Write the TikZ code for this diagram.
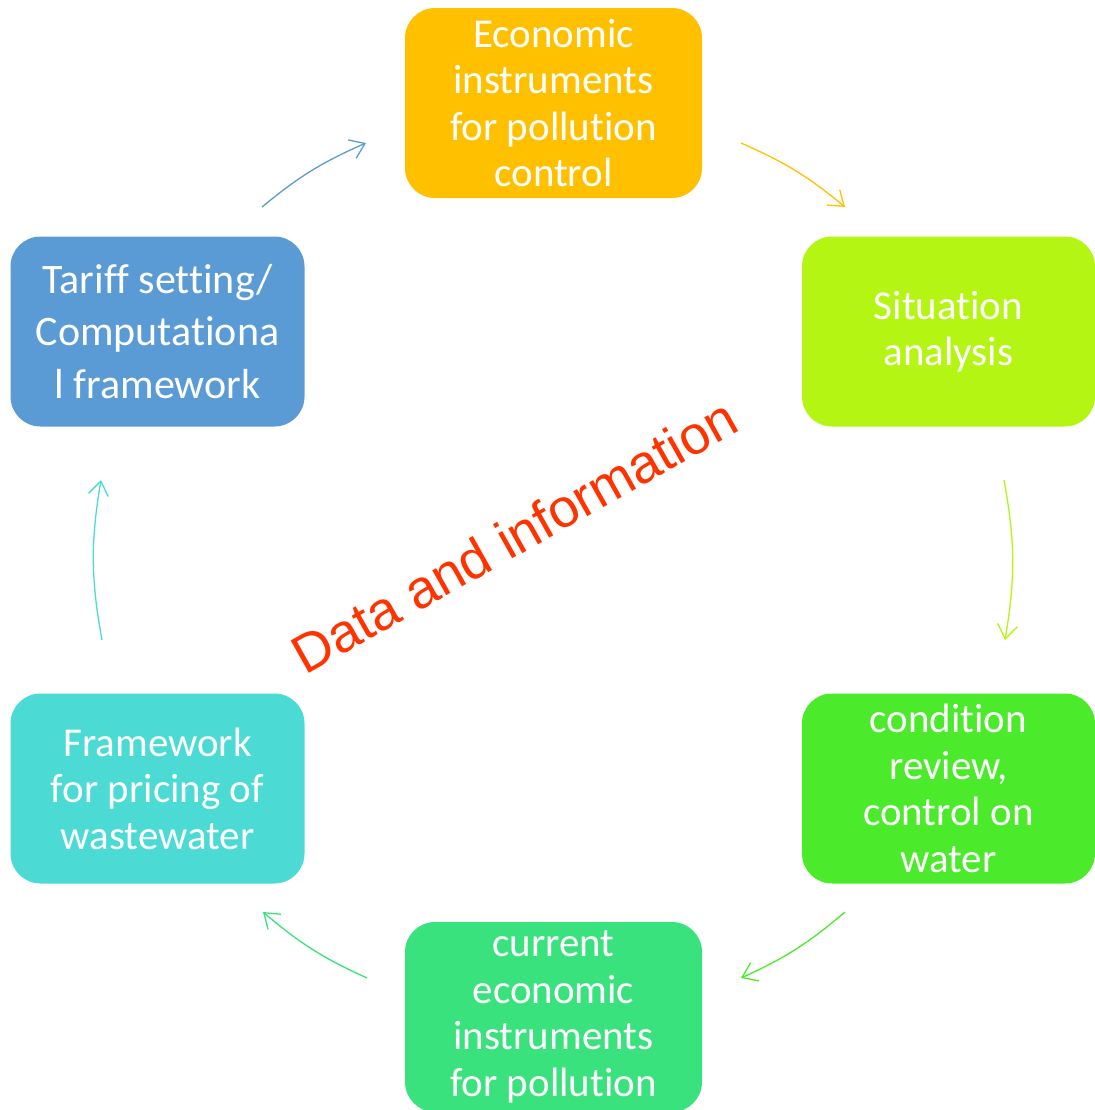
\documentclass[tikz,border=0pt]{standalone}
\usepackage{fontspec}
\setmainfont{Carlito}[Ligatures=NoCommon]
\newfontfamily\titlefont{Liberation Sans}
\usetikzlibrary{arrows.meta}

\definecolor{ecoorange}{HTML}{FFC000}
\definecolor{sitlime}{HTML}{B4F514}
\definecolor{condgreen}{HTML}{4BEA2B}
\definecolor{curgreen}{HTML}{3AE27E}
\definecolor{fwcyan}{HTML}{4BDBD4}
\definecolor{tarblue}{HTML}{5B9BD5}
\definecolor{titlered}{HTML}{FF3300}

\tikzset{
  stagebox/.style={rectangle, rounded corners=15pt, draw=none, text=white,
    minimum width=147pt, minimum height=95pt, align=center,
    font=\fontsize{20.5}{23.25}\selectfont},
  cycarrow/.style={line width=0.65pt, -{Straight Barb[length=7pt,width=10pt]}},
}

\begin{document}
\begin{tikzpicture}[x=0.5pt,y=-0.5pt]
			\useasboundingbox (0,0) rectangle (1095,1110);
			\clip (0,0) rectangle (1095,1110);
			% stages
			\node[stagebox, fill=ecoorange, minimum width=148.5pt] (eco) at (553.5,103) {Economic\\instruments\\for pollution\\control};
			\node[stagebox, fill=sitlime, minimum width=146.5pt] (sit) at (948.5,331.5) {Situation\\analysis};
			\node[stagebox, fill=condgreen, minimum width=146.5pt] (cond) at (948.5,788.5) {condition\\review,\\control on\\water};
			\node[stagebox, fill=curgreen, minimum width=148.5pt] (cur) at (553.5,1017) {current\\economic\\instruments\\for pollution};
			\node[stagebox, fill=fwcyan] (fw) at (157.5,788.5) {Framework\\for pricing of\\wastewater};
			\node[stagebox, fill=tarblue, font=\fontsize{21}{26.25}\selectfont] (tar) at (157.5,331.5) {Tariff setting/\\Computationa\\l framework};
			% centre text
			\node[rotate=29.4, text=titlered, font=\titlefont\fontsize{27}{32}\selectfont] (data) at (514,536) {Data and information};
			% arrow ends
			\coordinate (tar-out) at (262,207);
			\coordinate (eco-in) at (366,143);
			\coordinate (eco-out) at (741,143);
			\coordinate (sit-in) at (845,207);
			\coordinate (sit-out) at (1004,480);
			\coordinate (cond-in) at (1005,640);
			\coordinate (cond-out) at (845,912);
			\coordinate (cur-in) at (741,978);
			\coordinate (cur-out) at (367,978);
			\coordinate (fw-in) at (263,912);
			\coordinate (fw-out) at (102,640);
			\coordinate (tar-in) at (101,480);
			% cycle
			\draw[cycarrow, tarblue] (tar-out) to[bend left=8] (eco-in);
			\draw[cycarrow, ecoorange] (eco-out) to[bend left=8] (sit-in);
			\draw[cycarrow, sitlime] (sit-out) to[bend left=10] (cond-in);
			\draw[cycarrow, condgreen] (cond-out) to[bend left=8] (cur-in);
			\draw[cycarrow, curgreen] (cur-out) to[bend left=8] (fw-in);
			\draw[cycarrow, fwcyan] (fw-out) to[bend left=10] (tar-in);
		\end{tikzpicture}
\end{document}
